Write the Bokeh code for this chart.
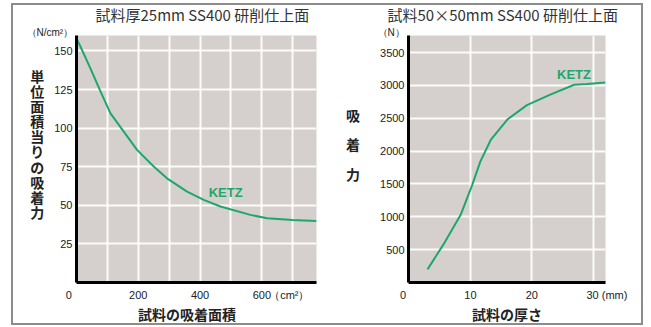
from bokeh.plotting import figure
from bokeh.models import Label, FixedTicker, Range1d, Row, InlineStyleSheet, Title
from bokeh.embed import file_html
from bokeh.resources import INLINE

# ---------------- data ----------------
# Left chart: suction force per unit area vs. attraction area
area_cm2 = [0, 10, 45, 78, 110, 153, 196, 250, 293, 358, 412, 466, 563, 617, 700, 777]
force_per_area = [158, 154, 138.7, 123.6, 109.6, 97.7, 85.9, 75.1, 67.5, 58.9, 53.5, 49.2, 43.8, 41.6, 40.5, 39.9]

# Right chart: suction force vs. sample thickness
thickness_mm = [3, 5.6, 8.4, 10.3, 11.6, 13.3, 16, 19.2, 23, 26.9, 29, 32]
force_n = [200, 580, 1030, 1490, 1840, 2170, 2480, 2700, 2860, 3010, 3020, 3045]

left_xticks = [0, 200, 400, 600]
left_yticks = [25, 50, 75, 100, 125, 150]
left_xgrid = [100, 200, 300, 400, 500, 600, 700]
right_xticks = [0, 10, 20, 30]
right_yticks = [500, 1000, 1500, 2000, 2500, 3000, 3500]
right_xgrid = [10, 20, 30]

series_name = "KETZ"
left_title = "試料厚25mm SS400 研削仕上面"
right_title = "試料50×50mm SS400 研削仕上面"
left_xlabel = "試料の吸着面積"
right_xlabel = "試料の厚さ"
left_ylabel = "単位面積当りの吸着力"
right_ylabel = "吸着力"
left_yunit = "（N/cm²）"
right_yunit = "（N）"
left_xunit = "（cm²）"
right_xunit = "(mm)"

# ---------------- style ----------------
GREEN = "#1fa66a"
BG = "#d5d0cd"
CJK = "Noto Sans CJK JP"
LAT = "Liberation Sans"
TXT = "#222222"
NB = "\u00a0"


def make_fig(xr, yr, mb_left, fw, mb_right):
    p = figure(frame_width=fw, frame_height=247,
               min_border_left=mb_left, min_border_right=mb_right,
               min_border_top=34, min_border_bottom=46,
               x_range=Range1d(*xr), y_range=Range1d(*yr), title=None,
               output_backend="svg", toolbar_location=None)
    p.background_fill_color = BG
    p.border_fill_color = "white"
    p.outline_line_color = None
    for ax in (p.xaxis[0], p.yaxis[0]):
        ax.axis_line_color = "black"
        ax.axis_line_width = 3
        ax.major_tick_line_color = None
        ax.minor_tick_line_color = None
        ax.major_tick_out = 0
        ax.major_tick_in = 0
        ax.major_label_text_font = LAT
        ax.major_label_text_font_size = "11px"
        ax.major_label_text_color = TXT
        ax.axis_label_text_font = CJK
        ax.axis_label_text_font_size = "14px"
        ax.axis_label_text_font_style = "bold"
        ax.axis_label_text_color = TXT
    p.xaxis[0].major_label_standoff = 6
    p.xaxis[0].axis_label_standoff = 0
    p.yaxis[0].major_label_standoff = 4
    p.yaxis[0].axis_label_orientation = "horizontal"
    p.yaxis[0].axis_label_text_align = "center"
    for g in (p.xgrid[0], p.ygrid[0]):
        g.grid_line_color = "white"
        g.grid_line_width = 2
        g.grid_line_alpha = 0.9
    return p


def add_titles(p, unit, unit_offset, main, main_offset):
    p.add_layout(Title(text=unit, align="left", offset=unit_offset, standoff=-4,
                       text_font=LAT, text_font_size="10px", text_font_style="normal",
                       text_color=TXT), "above")
    p.add_layout(Title(text=main, align="left", offset=main_offset, standoff=3,
                       text_font=CJK, text_font_size="15px", text_font_style="normal",
                       text_color="#333333"), "above")


# ---------------- left chart ----------------
p1 = make_fig((0, 777), (0, 160), 76, 240, 14)
p1.xaxis[0].ticker = FixedTicker(ticks=left_xticks + [689])
p1.xaxis[0].major_label_overrides = {0: "0" + NB * 5, 689: left_xunit}
p1.yaxis[0].ticker = FixedTicker(ticks=left_yticks)
p1.xgrid[0].ticker = FixedTicker(ticks=left_xgrid)
p1.ygrid[0].ticker = FixedTicker(ticks=left_yticks)
p1.xaxis[0].axis_label = left_xlabel + NB * 6
p1.yaxis[0].axis_label = "\n".join(list(left_ylabel) + [NB] * 2)
p1.yaxis[0].axis_label_text_line_height = 0.755
p1.yaxis[0].axis_label_standoff = 7
p1.line(area_cm2, force_per_area, line_color=GREEN, line_width=2)
p1.add_layout(Label(x=428, y=58.4, text=series_name, text_font=LAT, text_font_size="13px",
                    text_font_style="bold", text_color=GREEN, text_align="left",
                    text_baseline="middle"))
add_titles(p1, left_yunit, -50, left_title, 19)

# ---------------- right chart ----------------
p2 = make_fig((-0.1, 32.0), (0, 3760), 78, 197, 46)
p2.xaxis[0].ticker = FixedTicker(ticks=right_xticks)
p2.xaxis[0].major_label_overrides = {0: "0" + NB * 4, 30: NB * 9 + "30" + NB + right_xunit}
p2.yaxis[0].ticker = FixedTicker(ticks=right_yticks)
p2.xgrid[0].ticker = FixedTicker(ticks=right_xgrid)
p2.ygrid[0].ticker = FixedTicker(ticks=right_yticks)
p2.xaxis[0].axis_label = right_xlabel
p2.yaxis[0].axis_label = "\n".join(list(right_ylabel) + [NB])
p2.yaxis[0].axis_label_text_line_height = 1.453
p2.yaxis[0].axis_label_standoff = 17
p2.line(thickness_mm, force_n, line_color=GREEN, line_width=2)
p2.add_layout(Label(x=24.1, y=3160, text=series_name, text_font=LAT, text_font_size="13px",
                    text_font_style="bold", text_color=GREEN, text_align="left",
                    text_baseline="middle"))
add_titles(p2, right_yunit, -31, right_title, -21)

css = (":host { position: relative; overflow: visible; } "
       ":host::after { content: ''; position: absolute; left: 11px; top: 3px; "
       "width: 632px; height: 322px; border: 2px solid #8c8c8c; "
       "box-sizing: border-box; pointer-events: none; }")
layout = Row(children=[p1, p2], stylesheets=[InlineStyleSheet(css=css)])

open("out.html", "w").write(file_html(layout, INLINE))
